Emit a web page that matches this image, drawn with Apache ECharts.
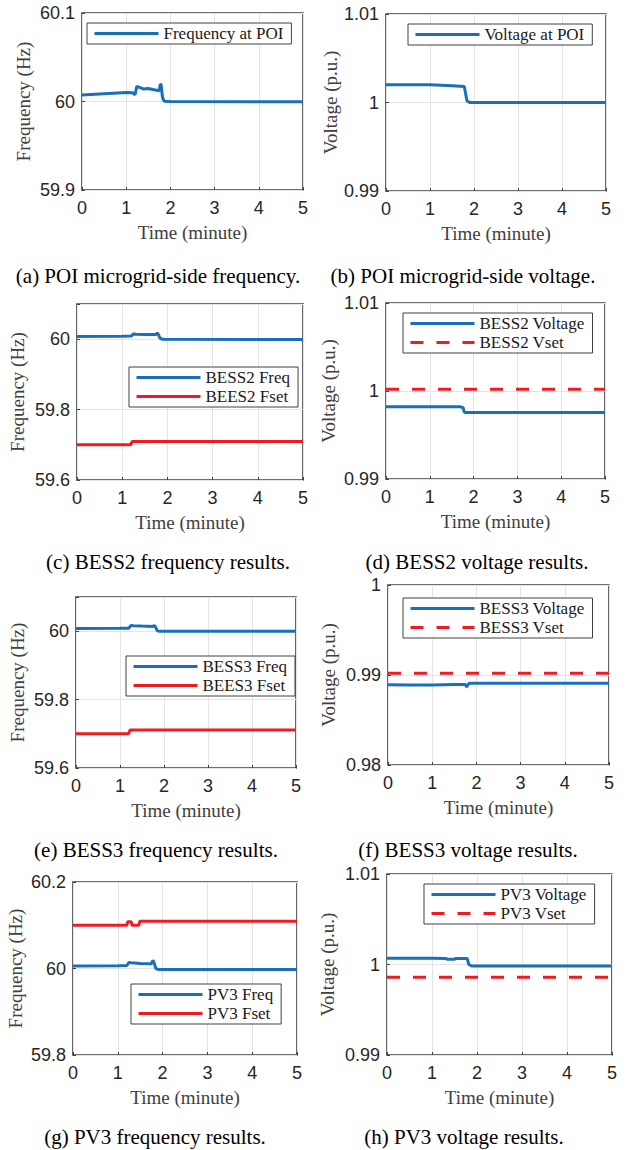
<!DOCTYPE html>
<html><head><meta charset="utf-8">
<script src="https://cdn.jsdelivr.net/npm/echarts@6/dist/echarts.min.js"></script>
<style>html,body{margin:0;padding:0;background:#fff}#c{width:630px;height:1150px}</style>
</head><body><div id="c"></div>
<script>
// ---------- data (time in minutes, value) ----------
const X_NAME = 'Time (minute)';
const CAPTIONS = [
  '(a) POI microgrid-side frequency.', '(b) POI microgrid-side voltage.',
  '(c) BESS2 frequency results.', '(d) BESS2 voltage results.',
  '(e) BESS3 frequency results.', '(f) BESS3 voltage results.',
  '(g) PV3 frequency results.', '(h) PV3 voltage results.'
];
const Y_NAMES = ['Frequency (Hz)', 'Voltage (p.u.)', 'Frequency (Hz)', 'Voltage (p.u.)',
                 'Frequency (Hz)', 'Voltage (p.u.)', 'Frequency (Hz)', 'Voltage (p.u.)'];
const Y_RANGES = [[59.9, 60.1, 0.1], [0.99, 1.01, 0.01], [59.6, 60.1, 0.2], [0.99, 1.01, 0.01],
                  [59.6, 60.1, 0.2], [0.98, 1.0, 0.01], [59.8, 60.2, 0.2], [0.99, 1.01, 0.01]];

const POI_FREQ = [[0,60.0073],[0.5,60.0088],[1.0,60.0102],[1.15,60.0098],[1.2,60.0076],[1.24,60.0172],[1.3,60.0160],[1.4,60.0140],[1.5,60.0147],[1.6,60.0135],[1.75,60.0122],[1.77,60.0195],[1.79,60.0190],[1.82,60.0050],[1.86,60.0002],[2.0,59.9999],[5,59.9998]];
const POI_VOLT = [[0,1.0020],[1.0,1.0020],[1.5,1.0019],[1.78,1.0018],[1.81,1.0010],[1.84,1.0002],[1.9,1.0],[5,1.0]];

const BESS2_FREQ = [[0,60.0075],[1.0,60.0085],[1.2,60.0088],[1.25,60.0150],[1.3,60.0140],[1.5,60.0132],[1.75,60.0130],[1.77,60.0180],[1.79,60.0160],[1.84,60.0020],[1.9,60.0],[5,59.999]];
const BESS2_FSET = [[0,59.70],[1.19,59.70],[1.22,59.7095],[5,59.7095]];
const BESS2_VOLT = [[0,0.9982],[1.7,0.9982],[1.76,0.9981],[1.78,0.9977],[1.8,0.99755],[5,0.99755]];
const BESS2_VSET = [[0,1.0002],[5,1.0002]];

const BESS3_FREQ = [[0,60.0078],[1.0,60.0085],[1.2,60.0088],[1.25,60.0170],[1.3,60.0160],[1.5,60.0150],[1.75,60.0140],[1.77,60.0170],[1.8,60.0140],[1.85,60.0010],[1.9,60.0],[5,60.0]];
const BESS3_FSET = [[0,59.70],[1.19,59.70],[1.23,59.711],[5,59.711]];
const BESS3_VOLT = [[0,0.98892],[0.5,0.98888],[1.0,0.98888],[1.5,0.98895],[1.75,0.98895],[1.78,0.98866],[1.8,0.98885],[1.84,0.98908],[5,0.98908]];
const BESS3_VSET = [[0,0.990185],[5,0.990185]];

const PV3_FREQ = [[0,60.0055],[1.0,60.0065],[1.2,60.0068],[1.25,60.0140],[1.3,60.0135],[1.5,60.0118],[1.75,60.0110],[1.78,60.0185],[1.8,60.0160],[1.85,60.0],[1.9,59.9978],[5,59.9978]];
const PV3_FSET = [[0,60.1],[1.2,60.1],[1.22,60.108],[1.3,60.108],[1.32,60.1],[1.47,60.1],[1.49,60.109],[5,60.109]];
const PV3_VOLT = [[0,1.00068],[1.0,1.00068],[1.3,1.00066],[1.35,1.00058],[1.5,1.00058],[1.52,1.00066],[1.78,1.00066],[1.82,1.0000],[1.88,0.99983],[5,0.99983]];
const PV3_VSET = [[0,0.99858],[5,0.99858]];

const SERIES_NAMES = [
  ['Frequency at POI'], ['Voltage at POI'],
  ['BESS2 Freq', 'BEES2 Fset'], ['BESS2 Voltage', 'BESS2 Vset'],
  ['BESS3 Freq', 'BEES3 Fset'], ['BESS3 Voltage', 'BESS3 Vset'],
  ['PV3 Freq', 'PV3 Fset'], ['PV3 Voltage', 'PV3 Vset']
];
const SERIES_DATA = [
  [POI_FREQ], [POI_VOLT],
  [BESS2_FREQ, BESS2_FSET], [BESS2_VOLT, BESS2_VSET],
  [BESS3_FREQ, BESS3_FSET], [BESS3_VOLT, BESS3_VSET],
  [PV3_FREQ, PV3_FSET], [PV3_VOLT, PV3_VSET]
];

// ---------- layout & style ----------
const GRIDS = [[82,13,221,177],[386,14,220,177],[77,304,226,176],[386,303,219,176],
               [76,597,220,171],[388,585,221,180],[73,882,224,173],[387,874,225,181]];
const LEGEND_POS = [[87,23],[408,24],[129,367],[403,313],[126,656],[403,598],[131,984],[424,884]];
const CAPTION_POS = [[158,276],[463,276],[168,562],[477,562],[156,850],[468,850],[155,1137],[464,1137]];
const NAME_GAPS = [49,46,50,48,49,50,48,50];
const BLUE = '#1a6fba', RED = '#ec1c24';
const AX = '#404040';
const SERIF = '"Liberation Serif", "Times New Roman", serif';
const SANS = '"Liberation Sans", Arial, Helvetica, sans-serif';

const grid = [], xAxis = [], yAxis = [], series = [], legend = [], graphic = [];
for (let i = 0; i < 8; i++) {
  const [l, t, w, h] = GRIDS[i];
  grid.push({left: l, top: t, width: w, height: h, show: true, borderColor: AX, borderWidth: 1.6, backgroundColor: '#fff', containLabel: false});
  xAxis.push({
    type: 'value', gridIndex: i, min: 0, max: 5, interval: 1,
    name: X_NAME, nameLocation: 'middle', nameGap: 33,
    nameTextStyle: {fontFamily: SERIF, fontSize: 19, color: '#404040'},
    axisLine: {show: false},
    axisTick: {show: true, inside: true, length: 3, lineStyle: {color: AX, width: 1}},
    axisLabel: {fontFamily: SANS, fontSize: 18, color: '#262626', margin: 9},
    splitLine: {show: true, lineStyle: {color: '#e4e4e4', width: 1}}
  });
  const [mn, mx, iv] = Y_RANGES[i];
  yAxis.push({
    type: 'value', gridIndex: i, min: mn, max: mx, interval: iv,
    name: Y_NAMES[i], nameLocation: 'middle', nameGap: NAME_GAPS[i],
    nameTextStyle: {fontFamily: SERIF, fontSize: 19, color: '#404040'},
    axisLine: {show: false},
    axisTick: {show: true, inside: true, length: 3, lineStyle: {color: AX, width: 1}},
    axisLabel: {fontFamily: SANS, fontSize: 18, color: '#262626', margin: 7,
      formatter: v => { const k = Math.round((v - mn) / iv * 1000) / 1000; return Number.isInteger(k) ? String(+v.toFixed(3)) : ''; }},
    splitLine: {show: true, lineStyle: {color: '#e4e4e4', width: 1}}
  });
  SERIES_NAMES[i].forEach((nm, j) => {
    const isSet = j === 1;
    const dashed = isSet && (i % 2 === 1);
    series.push({
      type: 'line', name: nm, xAxisIndex: i, yAxisIndex: i,
      data: SERIES_DATA[i][j], showSymbol: false, symbol: 'none', animation: false,
      z: isSet ? 2 : 3,
      lineStyle: {color: isSet ? RED : BLUE, width: 3, type: dashed ? [13, 13] : 'solid'},
      itemStyle: {color: isSet ? RED : BLUE}
    });
  });
  legend.push({
    data: SERIES_NAMES[i], orient: 'vertical', left: LEGEND_POS[i][0], top: LEGEND_POS[i][1],
    itemWidth: 64, itemHeight: 20, itemGap: 2, padding: [2, 8, 2, 6],
    borderColor: AX, borderWidth: 1, backgroundColor: '#fff', selectedMode: false,
    itemStyle: {opacity: 0, borderWidth: 0},
    lineStyle: {width: 3},
    textStyle: {fontFamily: SERIF, fontSize: 17, color: '#1a1a1a'}
  });
  graphic.push({
    type: 'text', x: CAPTION_POS[i][0], y: CAPTION_POS[i][1],
    style: {text: CAPTIONS[i], font: '21px ' + SERIF, fill: '#000', textAlign: 'center', textVerticalAlign: 'middle'}
  });
}

const chart = echarts.init(document.getElementById('c'), null, {renderer: 'svg', width: 630, height: 1150});
chart.setOption({animation: false, backgroundColor: '#fff', grid, xAxis, yAxis, series, legend, graphic});
</script></body></html>
